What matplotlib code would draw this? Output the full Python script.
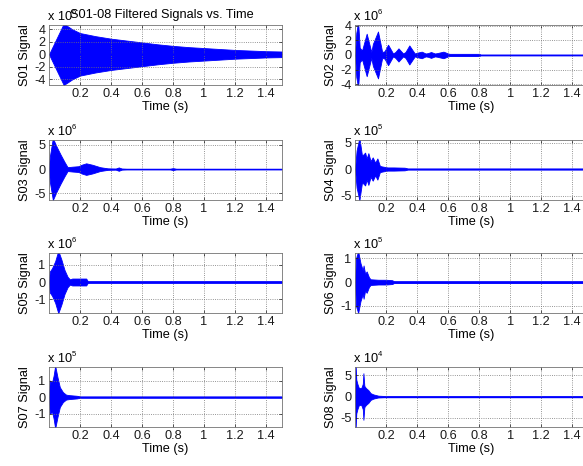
import numpy as np
import matplotlib
matplotlib.use('Agg')
import matplotlib.pyplot as plt

plt.rcParams['font.family'] = ['Liberation Sans', 'DejaVu Sans']
plt.rcParams['font.size'] = 9.2

# envelope of each filtered signal
# (time in s, amplitude in units of 10^exp)
s01_t = [0, 0.095, 0.15, 0.2, 0.3, 0.4, 0.5, 0.6, 0.7, 0.8, 0.9, 1.0, 1.1, 1.2, 1.3, 1.4, 1.5]
s01_amp = [0, 4.9, 4.0, 3.4, 2.9, 2.5, 2.2, 1.9, 1.6, 1.35, 1.15, 1.0, 0.85, 0.7, 0.6, 0.5, 0.45]

s02_t = [0, 0.008, 0.02, 0.03, 0.045, 0.075, 0.105, 0.115, 0.148, 0.175, 0.19, 0.213, 0.245,
         0.26, 0.28, 0.31, 0.325, 0.35, 0.385, 0.40, 0.43, 0.455, 0.47, 0.49, 0.515, 0.53,
         0.57, 0.6, 0.61, 0.8, 0.81, 1.5]
s02_amp = [0, 3.0, 4.5, 1.0, 0.6, 2.9, 0.4, 1.5, 3.2, 0.4, 0.5, 1.4, 0.2,
           0.4, 0.9, 0.2, 0.4, 1.3, 0.2, 0.3, 0.45, 0.2, 0.25, 0.4, 0.2, 0.25,
           0.45, 0.2, 0.15, 0.15, 0.05, 0.05]

s03_t = [0, 0.005, 0.025, 0.05, 0.075, 0.1, 0.12, 0.15, 0.19, 0.21, 0.24, 0.28, 0.33, 0.38,
         0.43, 0.45, 0.47, 0.5, 0.78, 0.8, 0.82, 1.5]
s03_amp = [0, 2.5, 6.4, 4.6, 3.0, 1.5, 0.4, 0.5, 0.6, 0.9, 1.2, 0.9, 0.4, 0.15,
           0.1, 0.35, 0.1, 0.05, 0.05, 0.2, 0.05, 0.05]

s04_t = [0, 0.01, 0.028, 0.045, 0.065, 0.075, 0.086, 0.1, 0.114, 0.13, 0.144, 0.16, 0.172,
         0.19, 0.21, 0.25, 0.32, 0.34, 1.5]
s04_amp = [0, 3.5, 5.9, 2.5, 3.1, 2.0, 3.0, 1.5, 2.2, 1.2, 2.0, 0.6, 0.5,
           0.4, 0.3, 0.3, 0.25, 0.1, 0.1]

s05_t = [0, 0.005, 0.02, 0.04, 0.06, 0.08, 0.1, 0.12, 0.135, 0.15, 0.2, 0.24, 0.25, 1.5]
s05_amp = [0, 0.6, 0.8, 1.2, 1.8, 1.3, 0.7, 0.3, 0.15, 0.2, 0.2, 0.2, 0.05, 0.05]

s06_t = [0, 0.006, 0.02, 0.035, 0.05, 0.055, 0.065, 0.075, 0.09, 0.1, 0.15, 0.2, 0.24, 0.25, 1.5]
s06_amp = [0, 1.0, 1.3, 0.8, 0.5, 0.7, 0.35, 0.45, 0.2, 0.12, 0.1, 0.1, 0.08, 0.04, 0.04]

s07_t = [0, 0.005, 0.02, 0.03, 0.04, 0.055, 0.07, 0.09, 0.11, 0.13, 0.18, 0.2, 1.5]
s07_amp = [0, 1.0, 0.9, 1.3, 1.9, 1.2, 0.6, 0.3, 0.15, 0.12, 0.08, 0.04, 0.04]

s08_t = [0, 0.004, 0.008, 0.015, 0.025, 0.04, 0.05, 0.054, 0.06, 0.07, 0.086, 0.1, 0.118,
         0.15, 0.2, 1.5]
s08_amp = [0, 7.5, 4.0, 3.0, 2.0, 2.0, 3.0, 5.5, 2.5, 2.0, 1.5, 0.8, 0.5, 0.2, 0.1, 0.1]

names = ['S01', 'S02', 'S03', 'S04', 'S05', 'S06', 'S07', 'S08']
exps = [6, 6, 6, 5, 6, 5, 5, 4]
ylims = [(-4.9, 4.7), (-4.1, 4.1), (-6.4, 6.05), (-5.85, 5.5),
         (-1.79, 1.68), (-1.3, 1.23), (-1.81, 1.83), (-7.2, 7.0)]
yticks = [[-4, -2, 0, 2, 4], [-4, -2, 0, 2, 4], [-5, 0, 5], [-5, 0, 5],
          [-1, 0, 1], [-1, 0, 1], [-1, 0, 1], [-5, 0, 5]]
xticks = [0.2, 0.4, 0.6, 0.8, 1.0, 1.2, 1.4]
xticklabels = ['0.2', '0.4', '0.6', '0.8', '1', '1.2', '1.4']

times = [s01_t, s02_t, s03_t, s04_t, s05_t, s06_t, s07_t, s08_t]
amps = [s01_amp, s02_amp, s03_amp, s04_amp, s05_amp, s06_amp, s07_amp, s08_amp]

fig = plt.figure(figsize=(5.83, 4.66), dpi=100)
lefts = [0.084, 0.609]
bottoms = [0.8176, 0.5708, 0.3283, 0.0837]
w, h = 0.399, 0.129

for i in range(8):
    row, col = i // 2, i % 2
    ax = fig.add_axes([lefts[col], bottoms[row], w, h])
    t = np.array(times[i])
    a = np.array(amps[i])
    ax.fill_between(t, -a, a, color='#0000ff', linewidth=0.6, edgecolor='#0000ff')
    ax.plot([t[0], t[-1]], [0, 0], color='#0000ff', lw=1.0)
    ax.set_xlim(0, 1.5)
    ax.set_ylim(ylims[i])
    ax.set_xticks(xticks)
    ax.set_xticklabels(xticklabels)
    ax.set_yticks(yticks[i])
    ax.set_yticklabels([str(v) for v in yticks[i]])
    ax.grid(True, linestyle=':', color='0.45', lw=0.6)
    ax.tick_params(direction='in', length=2.5, width=0.5, top=True, right=True,
                   pad=2.5, colors='0.1')
    for s in ax.spines.values():
        s.set_color('0.45')
        s.set_linewidth(0.6)
    ax.set_xlabel('Time (s)', labelpad=0.5)
    ax.set_ylabel(names[i] + ' Signal', labelpad=2)
    # MATLAB style exponent label: small superscript
    ax.text(-0.005, 1.03, 'x 10', transform=ax.transAxes, ha='left', va='bottom')
    ax.text(0.098, 1.14, str(exps[i]), transform=ax.transAxes, ha='left',
            va='bottom', fontsize=5.5)
    if i == 0:
        ax.set_title('S01-08 Filtered Signals vs. Time', fontsize=9.2, pad=5, x=0.485)

fig.savefig('out.png', dpi=100)
